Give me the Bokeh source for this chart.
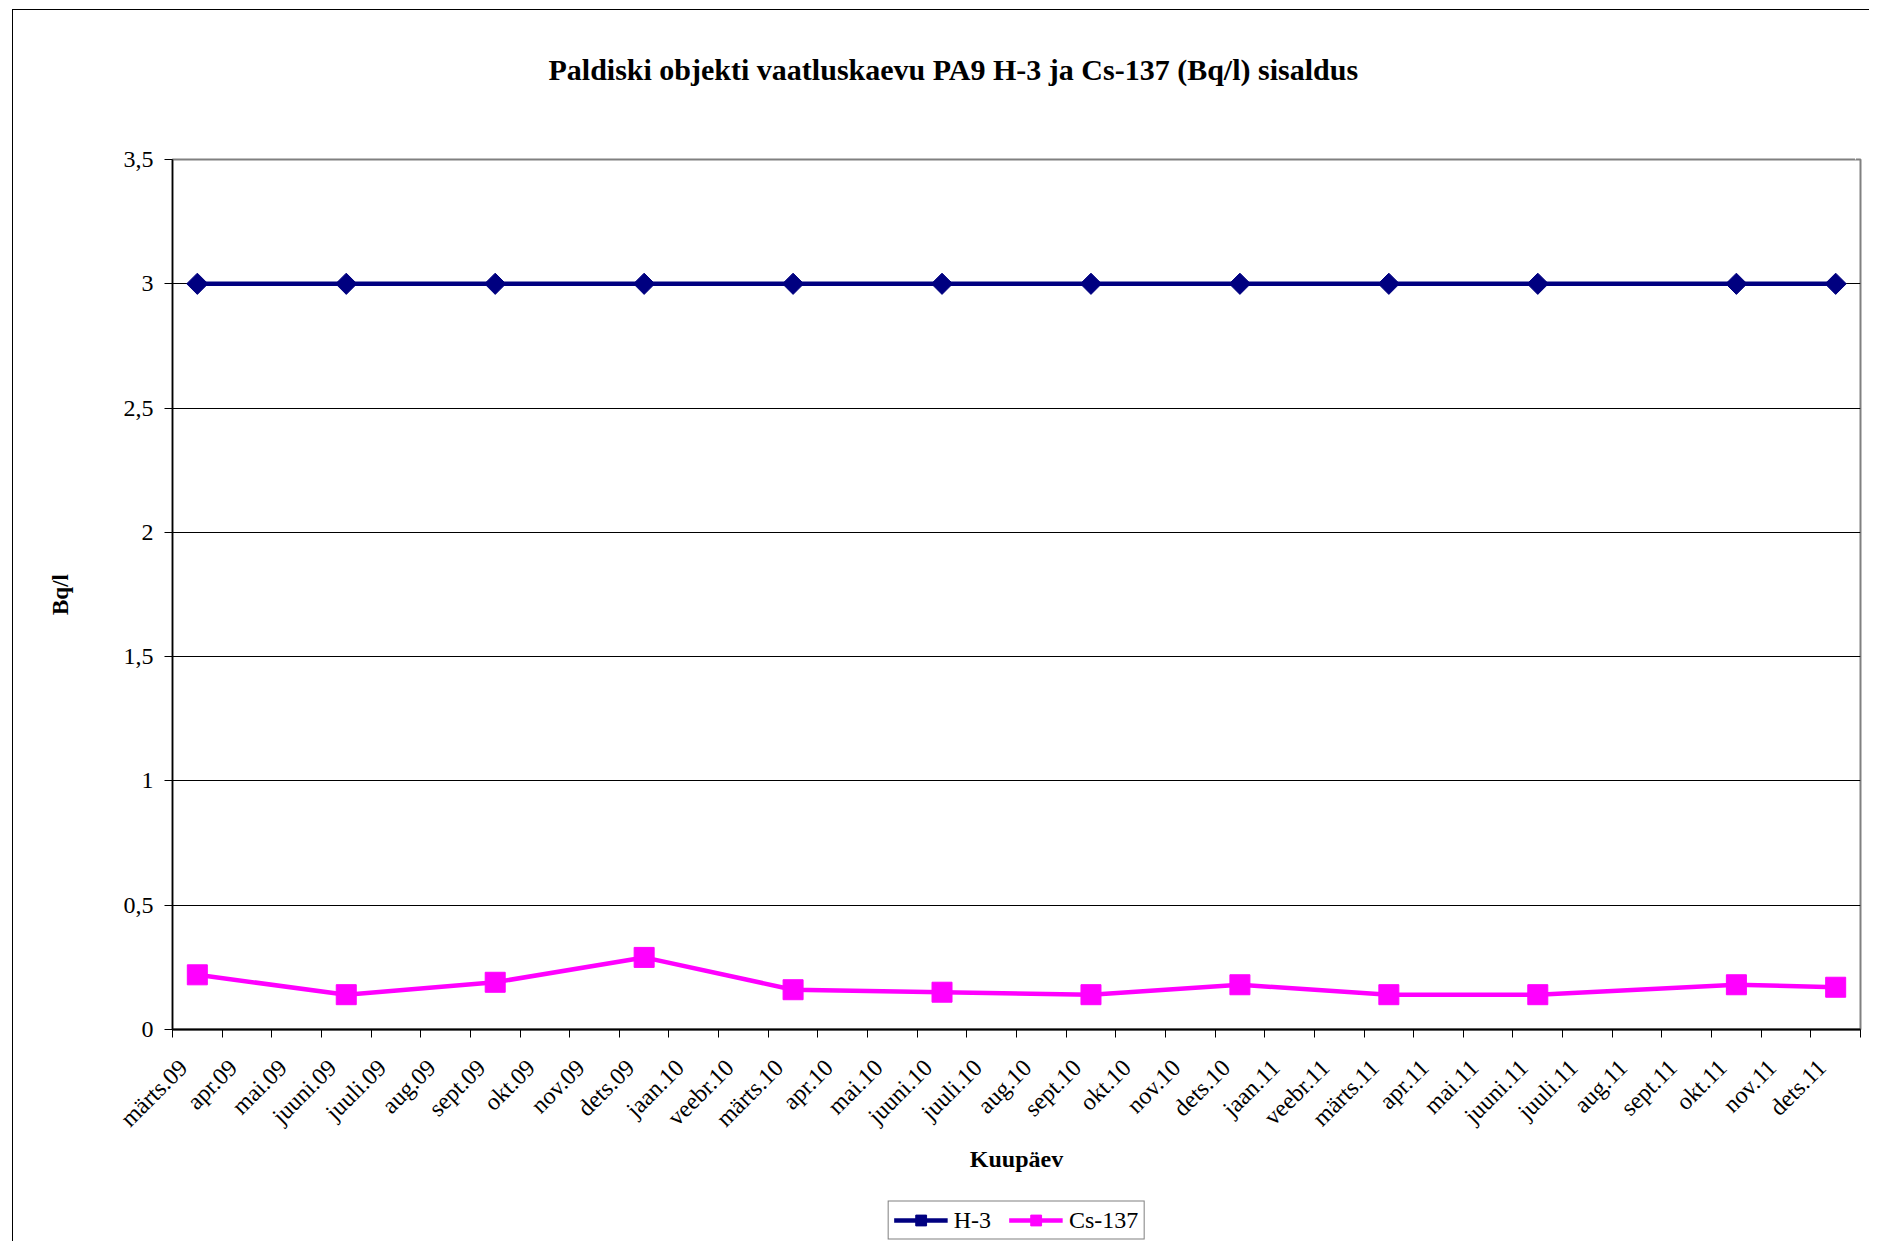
from math import pi
from bokeh.plotting import figure
from bokeh.layouts import column
from bokeh.models import (FixedTicker, CustomJSTickFormatter, Legend, LegendItem,
                          Range1d, Title, LinearAxis)
from bokeh.embed import file_html
from bokeh.resources import INLINE

# ---- data -------------------------------------------------------------
months = ["märts.09", "apr.09", "mai.09", "juuni.09", "juuli.09", "aug.09",
          "sept.09", "okt.09", "nov.09", "dets.09",
          "jaan.10", "veebr.10", "märts.10", "apr.10", "mai.10", "juuni.10",
          "juuli.10", "aug.10", "sept.10", "okt.10", "nov.10", "dets.10",
          "jaan.11", "veebr.11", "märts.11", "apr.11", "mai.11", "juuni.11",
          "juuli.11", "aug.11", "sept.11", "okt.11", "nov.11", "dets.11"]
sample_months = ["märts.09", "juuni.09", "sept.09", "dets.09", "märts.10",
                 "juuni.10", "sept.10", "dets.10", "märts.11", "juuni.11",
                 "okt.11", "dets.11"]
h3 = [3.0, 3.0, 3.0, 3.0, 3.0, 3.0, 3.0, 3.0, 3.0, 3.0, 3.0, 3.0]
cs137 = [0.22, 0.14, 0.19, 0.29, 0.16, 0.15, 0.14, 0.18, 0.14, 0.14, 0.18, 0.17]
y_ticks = [0, 0.5, 1, 1.5, 2, 2.5, 3, 3.5]

title_text = "Paldiski objekti  vaatluskaevu PA9 H-3 ja Cs-137 (Bq/l) sisaldus"
x_title = "Kuupäev"
y_title = "Bq/l"
series_names = ["H-3", "Cs-137"]

# sample taken mid-month
xs = [months.index(m) + 0.5 for m in sample_months]

FONT = "Liberation Serif"
NAVY = "#000080"
MAGENTA = "#FF00FF"

p = figure(frame_width=1688, frame_height=870, output_backend="svg",
           toolbar_location=None,
           x_range=Range1d(0, len(months)), y_range=Range1d(0, 3.5),
           min_border_left=159, min_border_right=9, min_border_top=149,
           min_border_bottom=150)

xax = p.xaxis[0]
yax = p.yaxis[0]

# invisible spacer (white tick, no label) between plot area and title
spacer = LinearAxis(ticker=FixedTicker(ticks=[33.9]),
                    formatter=CustomJSTickFormatter(code="return ''"),
                    major_tick_out=74, major_tick_in=0, major_label_standoff=0,
                    major_label_text_font_size="0px",
                    axis_line_color=None, major_tick_line_color="white",
                    minor_tick_line_color=None)
p.add_layout(spacer, "above")
p.add_layout(Title(text=title_text, align="left", offset=376, standoff=0,
                   vertical_align="bottom",
                   text_font=FONT, text_font_size="30px", text_font_style="bold",
                   text_color="black"), "above")

p.background_fill_color = "white"
p.border_fill_color = "white"
p.outline_line_color = "#808080"
p.outline_line_width = 2

# y axis
yax.ticker = FixedTicker(ticks=y_ticks)
yax.formatter = CustomJSTickFormatter(code="return tick.toString().replace('.', ',')")
yax.major_tick_out = 8
yax.major_tick_in = 0
yax.minor_tick_line_color = None
yax.axis_line_color = "black"
yax.axis_line_width = 1.5
yax.major_tick_line_color = "black"
yax.major_label_text_font = FONT
yax.major_label_text_font_size = "24px"
yax.major_label_text_color = "black"
yax.major_label_standoff = 11
yax.axis_label = y_title
yax.axis_label_text_font = FONT
yax.axis_label_text_font_size = "23px"
yax.axis_label_text_font_style = "bold"
yax.axis_label_text_color = "black"
yax.axis_label_standoff = 48

# x axis: labels just right of month-boundary ticks (drawn as minor ticks)
shift = 0.22
xax.ticker = FixedTicker(ticks=[i + shift for i in range(len(months))],
                         minor_ticks=list(range(len(months) + 1)))
xax.formatter = CustomJSTickFormatter(args=dict(labels=months),
                                      code="return labels[Math.floor(tick)] || ''")
xax.major_tick_out = 0
xax.major_tick_in = 0
xax.major_tick_line_color = None
xax.minor_tick_out = 8
xax.minor_tick_in = 0
xax.minor_tick_line_color = "black"
xax.minor_tick_line_width = 1
xax.axis_line_color = "black"
xax.axis_line_width = 2
xax.major_label_orientation = pi / 4
xax.major_label_standoff = 26
xax.major_label_text_font = FONT
xax.major_label_text_font_size = "24px"
xax.major_label_text_color = "black"
xax.axis_label = x_title
xax.axis_label_text_font = FONT
xax.axis_label_text_font_size = "24px"
xax.axis_label_text_font_style = "bold"
xax.axis_label_text_color = "black"
xax.axis_label_standoff = 2

p.xgrid.visible = False
p.ygrid.ticker = FixedTicker(ticks=y_ticks[1:-1])
p.ygrid.grid_line_color = "black"
p.ygrid.grid_line_width = 1


def draw_series(fig):
    l1 = fig.line(xs, h3, line_color=NAVY, line_width=4.5)
    s1 = fig.scatter(xs, h3, marker="square", angle=pi / 4, size=15,
                     fill_color=NAVY, line_color=NAVY)
    l2 = fig.line(xs, cs137, line_color=MAGENTA, line_width=4.5)
    s2 = fig.scatter(xs, cs137, marker="square", size=20,
                     fill_color=MAGENTA, line_color=MAGENTA)
    return (l1, s1), (l2, s2)


draw_series(p)

# legend strip below the chart: its own canvas, frame aligned with the chart's
pl = figure(width=1856, height=42, output_backend="svg", toolbar_location=None,
            x_range=Range1d(-20, -19), y_range=Range1d(-20, -19),
            min_border_left=159, min_border_right=9, min_border_top=0,
            min_border_bottom=0)
pl.axis.visible = False
pl.grid.visible = False
pl.outline_line_color = None
pl.background_fill_color = "white"
pl.border_fill_color = "white"
r_h3, r_cs = draw_series(pl)

legend = Legend(items=[LegendItem(label=series_names[0], renderers=list(r_h3)),
                       LegendItem(label=series_names[1], renderers=list(r_cs))],
                orientation="horizontal", location="center",
                border_line_color="black", border_line_width=1,
                background_fill_color="white", background_fill_alpha=1,
                glyph_width=54, glyph_height=27, label_standoff=6, spacing=18,
                padding=5, margin=1,
                label_text_font=FONT, label_text_font_size="24px",
                label_text_color="black")
pl.add_layout(legend, "center")
pl.margin = (20, 0, 0, 0)

page = column(p, pl, spacing=0)
page.margin = (9, 0, 0, 12)
page.styles = {"border-left": "1px solid black", "border-top": "1px solid black"}

open("out.html", "w").write(file_html(page, INLINE))
